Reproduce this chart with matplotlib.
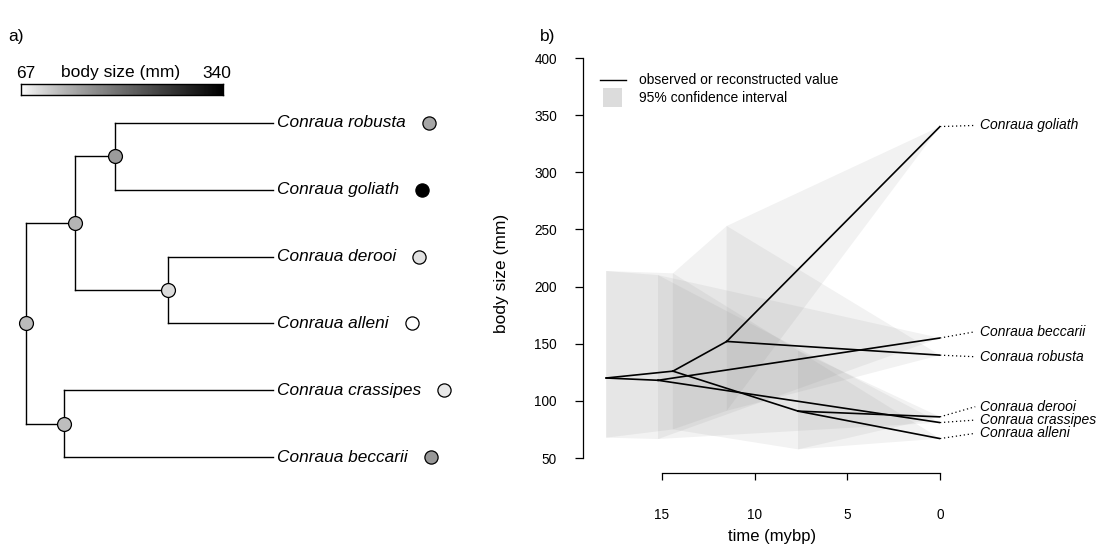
import numpy as np
import matplotlib
matplotlib.use("Agg")
import matplotlib.pyplot as plt
from matplotlib import colors, transforms
from matplotlib.lines import Line2D
from matplotlib.patches import Rectangle

plt.rcParams['font.family'] = ['Liberation Sans', 'DejaVu Sans']

# ---- data ----
tips = ["Conraua robusta", "Conraua goliath", "Conraua derooi",
        "Conraua alleni", "Conraua crassipes", "Conraua beccarii"]
tip_size = [140, 340, 86, 67, 81, 155]
# internal nodes: root, (crassipes,beccarii), big clade, (robusta,goliath), (derooi,alleni)
node_age = [18.0, 15.2, 14.4, 11.5, 7.65]
node_size = [120, 118, 126, 152, 91]
node_lo = [67.8, 66.6, 75.0, 91.3, 57.6]
node_hi = [213.6, 210.0, 211.6, 253.0, 144.0]
edges = [(6, 8), (6, 7), (8, 9), (8, 10), (9, 0), (9, 1),
         (10, 2), (10, 3), (7, 4), (7, 5)]
label_pos = [138.6, 341.0, 94.9, 71.6, 83.2, 160.5]

ntip = len(tips)
age = [0.0] * ntip + node_age
val = tip_size + node_size
lo = tip_size + node_lo
hi = tip_size + node_hi
root_age = node_age[0]

children = {}
for p, c in edges:
    children.setdefault(p, []).append(c)

ypos = {i: float(i) for i in range(ntip)}
def get_y(n):
    if n not in ypos:
        ypos[n] = np.mean([get_y(c) for c in children[n]])
    return ypos[n]
get_y(ntip)

W, H = 1096, 546
fig = plt.figure(figsize=(W / 100, H / 100), dpi=100)
# pixel coords (origin top-left) -> figure
px = transforms.Affine2D().scale(1 / W, -1 / H).translate(0, 1) + fig.transFigure

cmap = colors.LinearSegmentedColormap.from_list("wb", ["white", "black"])
norm = colors.PowerNorm(gamma=0.8, vmin=min(tip_size), vmax=max(tip_size))

# ==========================================
# a) tree with body size at nodes
# ==========================================
ax1 = fig.add_axes([0, 0, 540 / W, 1])
ax1.set_xlim(-1.895, 37.46)
ax1.set_ylim(6.332, -1.841)
ax1.axis("off")

dist = [root_age - a for a in age]
for p, ch in children.items():
    ys = [ypos[c] for c in ch]
    ax1.plot([dist[p], dist[p]], [min(ys), max(ys)], color="black", lw=1.0, zorder=1)
    for c in ch:
        ax1.plot([dist[p], dist[c]], [ypos[c], ypos[c]], color="black", lw=1.0, zorder=1)

for n in children:
    ax1.plot(dist[n], ypos[n], "o", ms=10, mfc=cmap(norm(val[n])), mec="black",
             mew=0.9, zorder=3)

labels = []
for i, name in enumerate(tips):
    t = ax1.text(dist[i] + 0.3, ypos[i], name, fontsize=12.4, style="italic",
                 va="center", ha="left")
    labels.append(t)

fig.canvas.draw()
rend = fig.canvas.get_renderer()
for i, t in enumerate(labels):
    bb = t.get_window_extent(renderer=rend)
    xd, _ = ax1.transData.inverted().transform((bb.x1 + 23, 0))
    ax1.plot(xd, ypos[i], "o", ms=9.5, mfc=cmap(norm(tip_size[i])), mec="black",
             mew=0.9, zorder=3)

# colour bar
cax = fig.add_axes([21 / W, 1 - 95 / H, 202 / W, 11 / H])
grad = np.linspace(min(tip_size), max(tip_size), 256).reshape(1, -1)
cax.imshow(grad, cmap=cmap, norm=norm, aspect="auto")
cax.set_xticks([]); cax.set_yticks([])
for s in cax.spines.values():
    s.set_linewidth(1.0)
fig.text(16, 73, str(min(tip_size)), transform=px, fontsize=12.5, va="center", ha="left")
fig.text(121, 73, "body size (mm)", transform=px, fontsize=12.5, va="center", ha="center")
fig.text(231, 73, str(max(tip_size)), transform=px, fontsize=12.5, va="center", ha="right")

fig.text(8, 37, "a)", transform=px, fontsize=12.5, va="center", ha="left")
fig.text(540, 37, "b)", transform=px, fontsize=12.5, va="center", ha="left")

# ==========================================
# b) traitgram with 95% CI
# ==========================================
ax2 = fig.add_axes([583 / W, 1 - 473 / H, (940 - 583) / W, (473 - 58) / H])
ax2.set_xlim(19.25, 0)
ax2.set_ylim(36.88, 400)

for p, c in edges:
    ax2.fill([age[p], age[p], age[c], age[c]], [lo[p], hi[p], hi[c], lo[c]],
             color="0.5", alpha=0.1, lw=0, zorder=1)
for p, c in edges:
    ax2.plot([age[p], age[c]], [val[p], val[c]], color="black", lw=1.2, zorder=2)

for i, name in enumerate(tips):
    ax2.plot([0, -1.9], [val[i], label_pos[i]], ls=(0, (1, 2.2)), color="black",
             lw=0.9, clip_on=False)
    ax2.text(-2.16, label_pos[i], name, fontsize=10, style="italic",
             va="center", ha="left", clip_on=False)

for s in ["top", "right"]:
    ax2.spines[s].set_visible(False)
ax2.spines["left"].set_bounds(50, 400)
ax2.spines["bottom"].set_bounds(0, 15)
for s in ["left", "bottom"]:
    ax2.spines[s].set_linewidth(0.9)
ax2.set_yticks(np.arange(50, 401, 50))
ax2.set_xticks([15, 10, 5, 0])
ax2.tick_params(axis="y", length=5.8, width=0.9, pad=13, labelsize=9.8)
ax2.tick_params(axis="x", length=5.2, width=0.9, pad=20, labelsize=9.8)

ax2.set_ylabel("body size (mm)", fontsize=12.5)
ax2.yaxis.set_label_coords(509, 273, transform=px)
ax2.set_xlabel("time (mybp)", fontsize=12)
ax2.xaxis.set_label_coords(772, 529, transform=px)

# legend
fig.add_artist(Line2D([600, 626], [80, 80], color="black", lw=1.0, transform=px))
fig.add_artist(Rectangle((603, 88), 19, 19, facecolor="#dcdcdc", edgecolor="none",
                         transform=px))
fig.text(639, 80, "observed or reconstructed value", transform=px, fontsize=10, va="center")
fig.text(639, 98, "95% confidence interval", transform=px, fontsize=10, va="center")

fig.savefig("out.png", dpi=100)
